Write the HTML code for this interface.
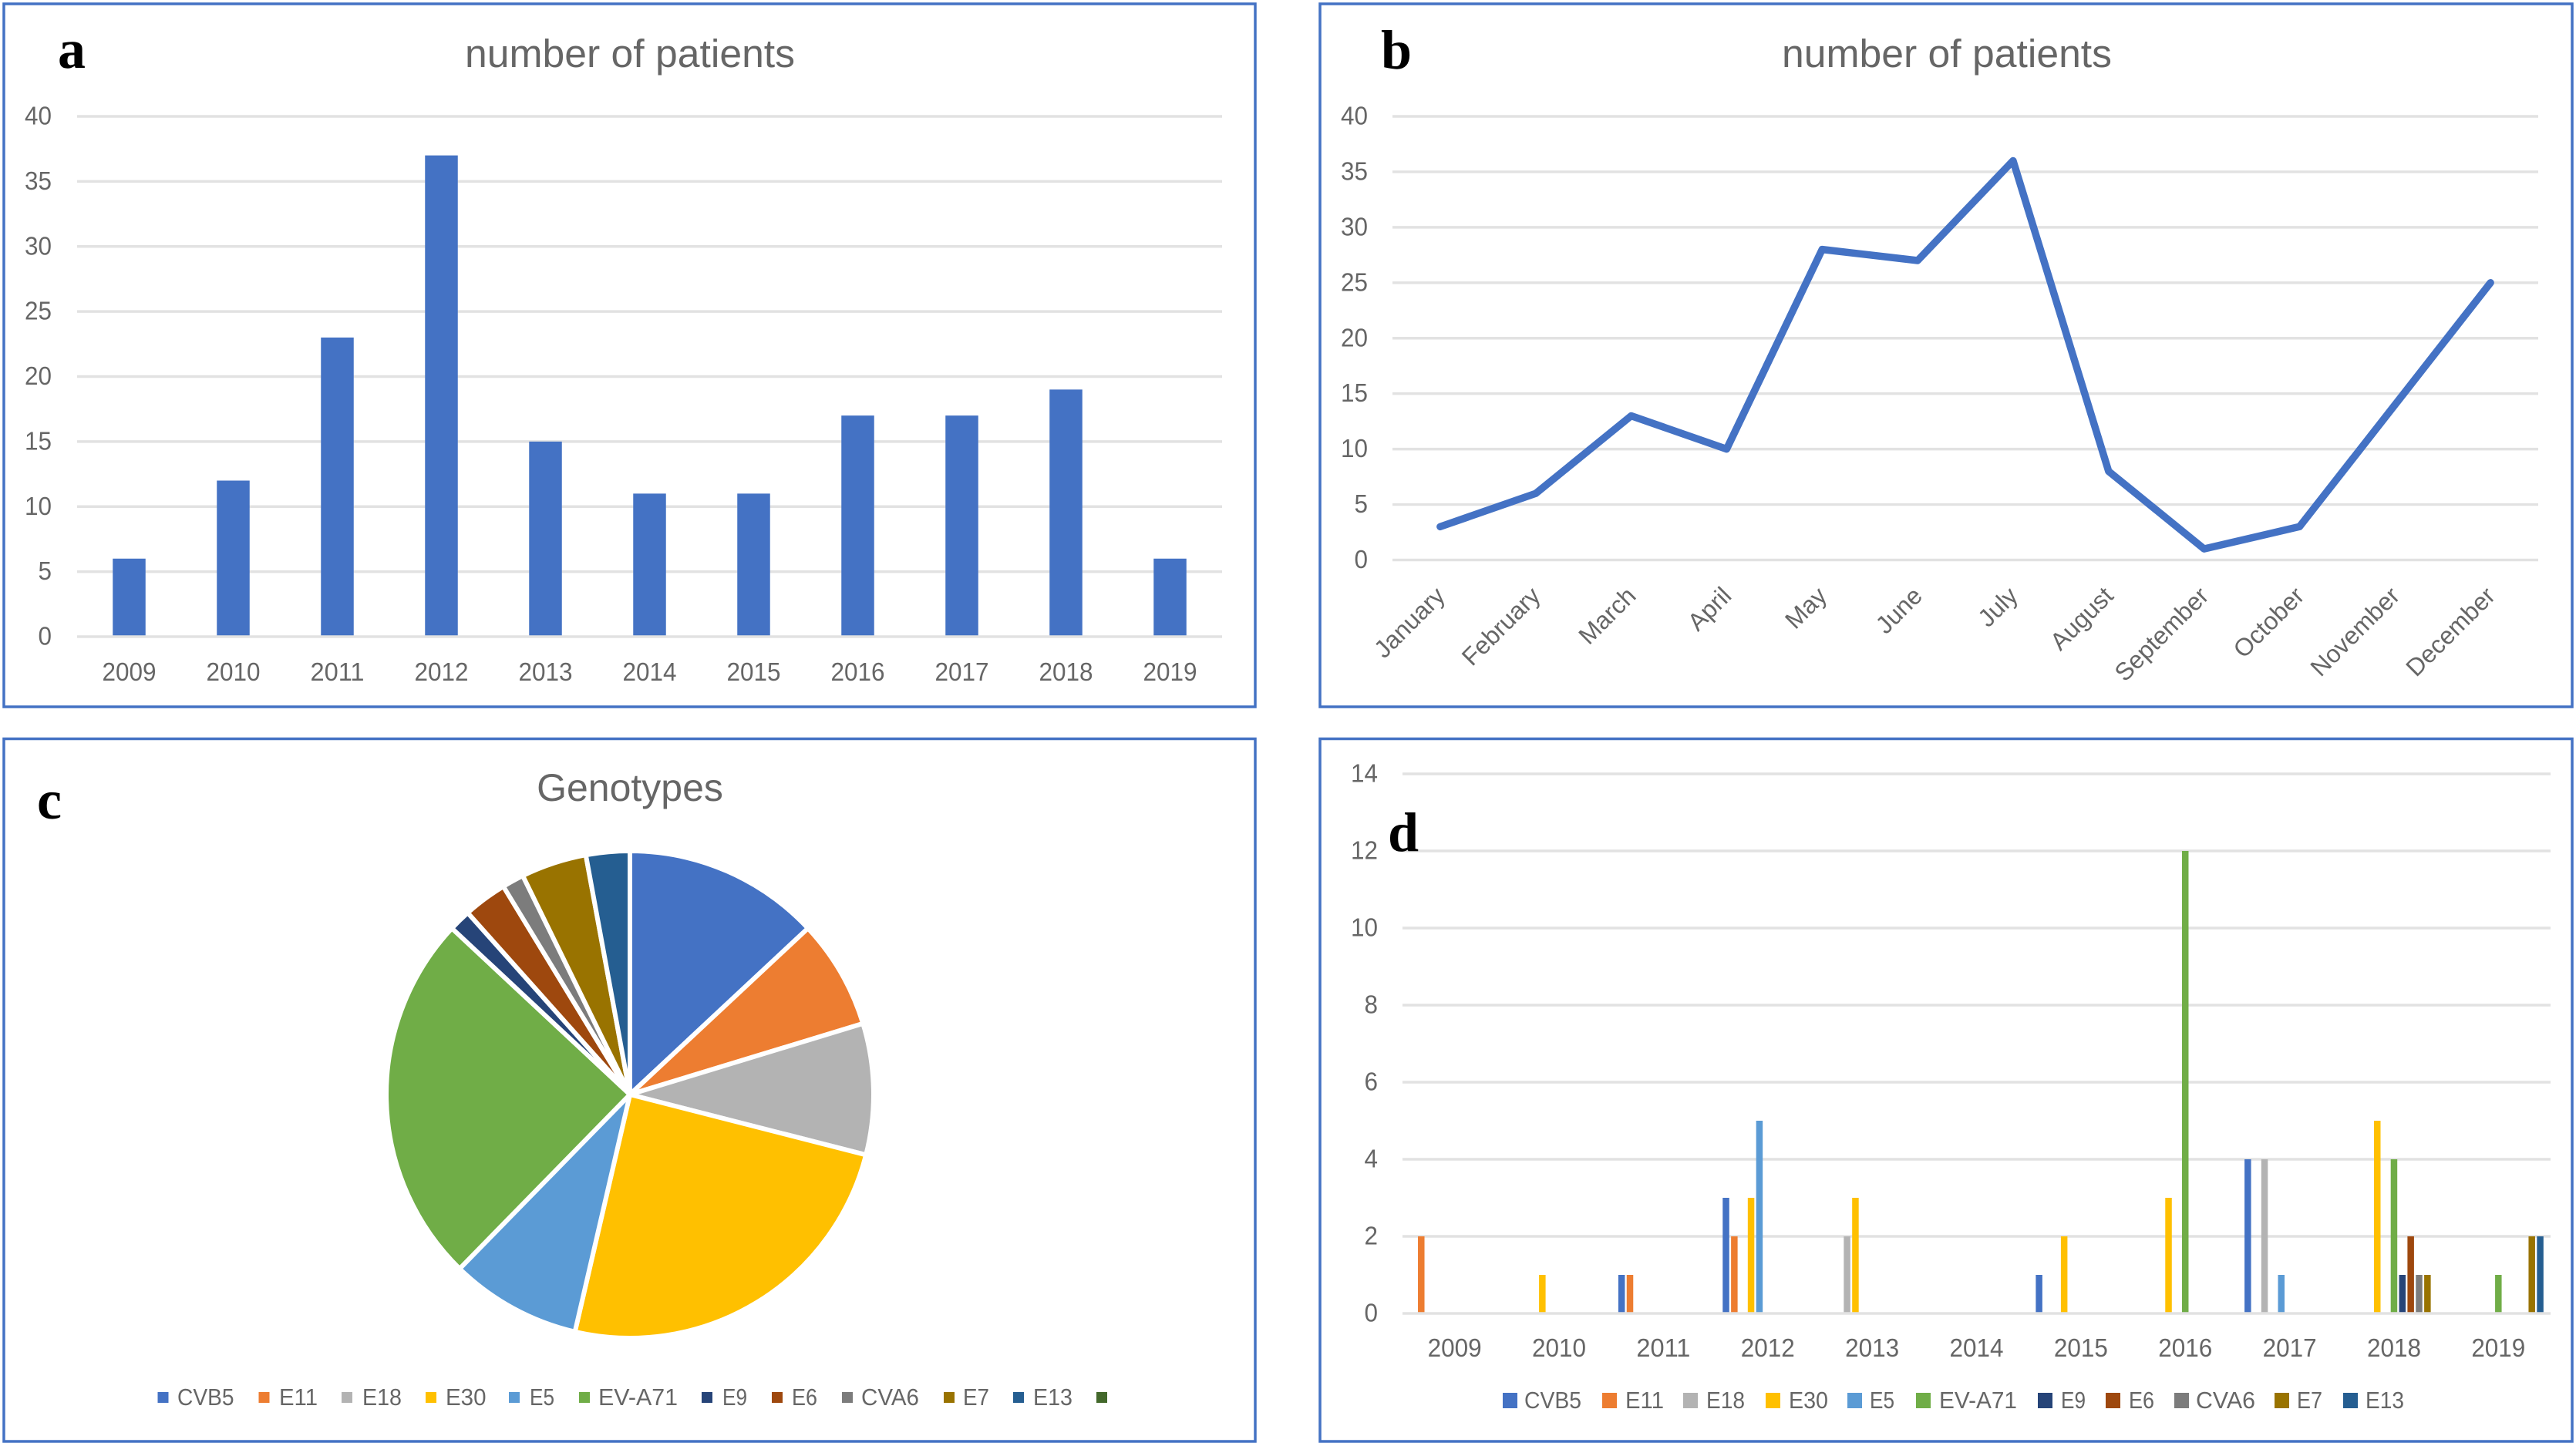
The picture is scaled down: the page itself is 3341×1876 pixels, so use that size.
<!DOCTYPE html>
<html lang="en">
<head>
<meta charset="utf-8">
<title>Patients and genotypes charts</title>
<style>
html,body{margin:0;padding:0;background:#fff;}
svg{display:block;}
text{font-family:"Liberation Sans",sans-serif;fill:#666;}
.tick{font-size:33px;}
.title{font-size:51px;}
.leg{font-size:31px;}
.panel-letter{font-family:"Liberation Serif",serif;font-weight:bold;font-size:72px;fill:#000;}
.frame{fill:#fff;stroke:#4472c4;stroke-width:3.5;}
</style>
</head>
<body>
<svg id="fig" xmlns="http://www.w3.org/2000/svg" width="3341" height="1876" viewBox="0 0 3341 1876">
  <rect width="3341" height="1876" fill="#fff"/>
  <rect class="frame" x="5" y="5" width="1623" height="912"/>
  <rect class="frame" x="1712" y="5" width="1624" height="912"/>
  <rect class="frame" x="5" y="958.5" width="1623" height="911.5"/>
  <rect class="frame" x="1712" y="958.5" width="1624" height="911.5"/>

  <g id="chartA"></g>
  <g id="chartB"></g>
  <g id="chartC"></g>
  <g id="chartD"></g>

  <text class="title" x="817" y="87" text-anchor="middle" textLength="428" lengthAdjust="spacingAndGlyphs">number of patients</text>
  <text class="title" x="2525" y="87" text-anchor="middle" textLength="428" lengthAdjust="spacingAndGlyphs">number of patients</text>
  <text class="title" x="817" y="1039" text-anchor="middle" style="font-size:50px">Genotypes</text>

  <g>
    <rect x="204.5" y="1806" width="14" height="14" fill="#4472c4"/>
    <text class="leg" x="230" y="1823" textLength="73.5" lengthAdjust="spacingAndGlyphs">CVB5</text>
    <rect x="335.5" y="1806" width="14" height="14" fill="#ed7d31"/>
    <text class="leg" x="362" y="1823" textLength="50" lengthAdjust="spacingAndGlyphs">E11</text>
    <rect x="443" y="1806" width="14" height="14" fill="#b3b3b3"/>
    <text class="leg" x="470" y="1823" textLength="51" lengthAdjust="spacingAndGlyphs">E18</text>
    <rect x="552" y="1806" width="14" height="14" fill="#ffc000"/>
    <text class="leg" x="578" y="1823" textLength="52.5" lengthAdjust="spacingAndGlyphs">E30</text>
    <rect x="660" y="1806" width="14" height="14" fill="#5b9bd5"/>
    <text class="leg" x="687" y="1823" textLength="32" lengthAdjust="spacingAndGlyphs">E5</text>
    <rect x="751" y="1806" width="14" height="14" fill="#70ad47"/>
    <text class="leg" x="776" y="1823" textLength="103" lengthAdjust="spacingAndGlyphs">EV-A71</text>
    <rect x="910" y="1806" width="14" height="14" fill="#264478"/>
    <text class="leg" x="937" y="1823" textLength="32" lengthAdjust="spacingAndGlyphs">E9</text>
    <rect x="1001" y="1806" width="14" height="14" fill="#9e480e"/>
    <text class="leg" x="1027" y="1823" textLength="33" lengthAdjust="spacingAndGlyphs">E6</text>
    <rect x="1092" y="1806" width="14" height="14" fill="#7c7c7c"/>
    <text class="leg" x="1117" y="1823" textLength="75" lengthAdjust="spacingAndGlyphs">CVA6</text>
    <rect x="1224" y="1806" width="14" height="14" fill="#997300"/>
    <text class="leg" x="1249" y="1823" textLength="34" lengthAdjust="spacingAndGlyphs">E7</text>
    <rect x="1314" y="1806" width="14" height="14" fill="#255e91"/>
    <text class="leg" x="1340" y="1823" textLength="51" lengthAdjust="spacingAndGlyphs">E13</text>
    <rect x="1422" y="1806" width="14" height="14" fill="#43682b"/>
  </g>

  <g>
    <rect x="1949" y="1807" width="19" height="20" fill="#4472c4"/>
    <text class="leg" x="1977" y="1827" textLength="74" lengthAdjust="spacingAndGlyphs">CVB5</text>
    <rect x="2078" y="1807" width="19" height="20" fill="#ed7d31"/>
    <text class="leg" x="2108" y="1827" textLength="50" lengthAdjust="spacingAndGlyphs">E11</text>
    <rect x="2183" y="1807" width="19" height="20" fill="#b3b3b3"/>
    <text class="leg" x="2213" y="1827" textLength="50" lengthAdjust="spacingAndGlyphs">E18</text>
    <rect x="2290" y="1807" width="19" height="20" fill="#ffc000"/>
    <text class="leg" x="2320" y="1827" textLength="51" lengthAdjust="spacingAndGlyphs">E30</text>
    <rect x="2396" y="1807" width="19" height="20" fill="#5b9bd5"/>
    <text class="leg" x="2425" y="1827" textLength="32" lengthAdjust="spacingAndGlyphs">E5</text>
    <rect x="2485" y="1807" width="19" height="20" fill="#70ad47"/>
    <text class="leg" x="2515" y="1827" textLength="101" lengthAdjust="spacingAndGlyphs">EV-A71</text>
    <rect x="2643" y="1807" width="19" height="20" fill="#264478"/>
    <text class="leg" x="2673" y="1827" textLength="32" lengthAdjust="spacingAndGlyphs">E9</text>
    <rect x="2731" y="1807" width="19" height="20" fill="#9e480e"/>
    <text class="leg" x="2761" y="1827" textLength="33" lengthAdjust="spacingAndGlyphs">E6</text>
    <rect x="2820" y="1807" width="19" height="20" fill="#7c7c7c"/>
    <text class="leg" x="2848" y="1827" textLength="77" lengthAdjust="spacingAndGlyphs">CVA6</text>
    <rect x="2950" y="1807" width="19" height="20" fill="#997300"/>
    <text class="leg" x="2979" y="1827" textLength="33" lengthAdjust="spacingAndGlyphs">E7</text>
    <rect x="3039" y="1807" width="19" height="20" fill="#255e91"/>
    <text class="leg" x="3068" y="1827" textLength="50" lengthAdjust="spacingAndGlyphs">E13</text>
  </g>

  <text class="panel-letter" x="75" y="88">a</text>
  <text class="panel-letter" x="1791" y="89">b</text>
  <text class="panel-letter" x="48" y="1062">c</text>
  <text class="panel-letter" x="1800" y="1104">d</text>
</svg>

<script>
// ---------- data ----------
const yearLabels = ['2009','2010','2011','2012','2013','2014','2015','2016','2017','2018','2019'];
const patientsByYear = [6,12,23,37,15,11,11,17,17,19,6];
const patientTicks = [0,5,10,15,20,25,30,35,40];

const monthLabels = ['January','February','March','April','May','June','July','August','September','October','November','December'];
const patientsByMonth = [3,6,13,10,28,27,36,8,1,3,14,25];

const genotypeNames = ['CVB5','E11','E18','E30','E5','EV-A71','E9','E6','CVA6','E7','E13'];
const genotypeTotals = [9,5,6,17,6,17,1,2,1,3,2];
const genotypeColors = ['#4472c4','#ed7d31','#b3b3b3','#ffc000','#5b9bd5','#70ad47','#264478','#9e480e','#7c7c7c','#997300','#255e91'];

const genotypeTicks = [0,2,4,6,8,10,12,14];
const seriesCVB5  = [0,0,1,3,0,0,1,0,4,0,0];
const seriesE11   = [2,0,1,2,0,0,0,0,0,0,0];
const seriesE18   = [0,0,0,0,2,0,0,0,4,0,0];
const seriesE30   = [0,1,0,3,3,0,2,3,0,5,0];
const seriesE5    = [0,0,0,5,0,0,0,0,1,0,0];
const seriesEVA71 = [0,0,0,0,0,0,0,12,0,4,1];
const seriesE9    = [0,0,0,0,0,0,0,0,0,1,0];
const seriesE6    = [0,0,0,0,0,0,0,0,0,2,0];
const seriesCVA6  = [0,0,0,0,0,0,0,0,0,1,0];
const seriesE7    = [0,0,0,0,0,0,0,0,0,1,2];
const seriesE13   = [0,0,0,0,0,0,0,0,0,0,2];
const genotypeSeries = [seriesCVB5,seriesE11,seriesE18,seriesE30,seriesE5,seriesEVA71,seriesE9,seriesE6,seriesCVA6,seriesE7,seriesE13];

// ---------- helpers ----------
const NS = 'http://www.w3.org/2000/svg';
const DIGIT_W = 17.5;
function make(parent, tag, attrs, text) {
  const el = document.createElementNS(NS, tag);
  for (const k in attrs) el.setAttribute(k, attrs[k]);
  if (text !== undefined) el.textContent = text;
  parent.appendChild(el);
  return el;
}
function slug(s) { return String(s).toLowerCase().replace(/[^a-z0-9]+/g, '-'); }
function linear(d0, d1, r0, r1) { return v => r0 + (v - d0) * (r1 - r0) / (d1 - d0); }
function bandCenter(left, right, n) { const b = (right - left) / n; return i => left + b * (i + 0.5); }
function numberText(g, x, y, anchor, value) {
  return make(g, 'text', {class:'tick', x:x, y:y, 'text-anchor':anchor,
    textLength:String(value).length * DIGIT_W, lengthAdjust:'spacingAndGlyphs'}, value);
}

function drawGrid(g, ticks, yScale, left, right, labelRight, prefix) {
  ticks.forEach(t => {
    if (t !== ticks[0]) {
      const ln = make(g, 'line', {x1:left, x2:right, y1:yScale(t), y2:yScale(t), stroke:'#e2e2e2', 'stroke-width':3.4});
      
      
    }
    const tx = numberText(g, labelRight, yScale(t) + 10.5, 'end', t);
    
    
  });
}
function drawBaseline(g, ticks, yScale, left, right, prefix) {
  const ln = make(g, 'line', {x1:left, x2:right, y1:yScale(ticks[0]), y2:yScale(ticks[0]), stroke:'#e2e2e2', 'stroke-width':3.4});
  
  
}

// ---------- chart a ----------
(function () {
  const g = document.getElementById('chartA');
  const left = 100, right = 1585;
  const y = linear(0, 40, 826, 151);
  const x = bandCenter(left, right, yearLabels.length);
  const barW = 42.5;
  drawGrid(g, patientTicks, y, left, right, 67, 'year-chart');
  patientsByYear.forEach((v, i) => {
    const r = make(g, 'rect', {x:x(i) - barW / 2, y:y(v), width:barW, height:y(0) - y(v), fill:'#4472c4'});
    
    
  });
  drawBaseline(g, patientTicks, y, left, right, 'year-chart');
  yearLabels.forEach((l, i) => {
    const t = numberText(g, x(i), 883, 'middle', l);
    
    
  });
})();

// ---------- chart b ----------
(function () {
  const g = document.getElementById('chartB');
  const left = 1806, right = 3292;
  const y = linear(0, 40, 726.5, 151);
  const x = bandCenter(left, right, monthLabels.length);
  drawGrid(g, patientTicks, y, left, right, 1774, 'month-chart');
  drawBaseline(g, patientTicks, y, left, right, 'month-chart');
  const pts = patientsByMonth.map((v, i) => x(i).toFixed(1) + ',' + y(v).toFixed(1)).join(' ');
  const line = make(g, 'polyline', {points:pts, fill:'none', stroke:'#4472c4', 'stroke-width':9.5, 'stroke-linejoin':'round', 'stroke-linecap':'round'});
  
  
  monthLabels.forEach((l, i) => {
    const ax = x(i) + 8, ay = 775;
    const t = make(g, 'text', {class:'tick', style:'font-size:32px', x:ax, y:ay, 'text-anchor':'end', transform:'rotate(-45 ' + ax + ' ' + ay + ')'}, l);
    
    
  });
})();

// ---------- chart c ----------
(function () {
  const g = document.getElementById('chartC');
  const cx = 817, cy = 1420, r = 316;
  const total = genotypeTotals.reduce((a, b) => a + b, 0);
  let acc = 0;
  genotypeTotals.forEach((v, i) => {
    const a0 = acc / total * 2 * Math.PI;
    acc += v;
    const a1 = acc / total * 2 * Math.PI;
    const p0 = [cx + r * Math.sin(a0), cy - r * Math.cos(a0)];
    const p1 = [cx + r * Math.sin(a1), cy - r * Math.cos(a1)];
    const large = (a1 - a0) > Math.PI ? 1 : 0;
    const d = 'M' + cx + ' ' + cy + 'L' + p0[0].toFixed(2) + ' ' + p0[1].toFixed(2) +
              'A' + r + ' ' + r + ' 0 ' + large + ' 1 ' + p1[0].toFixed(2) + ' ' + p1[1].toFixed(2) + 'Z';
    const s = make(g, 'path', {d:d, fill:genotypeColors[i], stroke:'#fff', 'stroke-width':6, 'stroke-linejoin':'round'});
    
    
  });
})();

// ---------- chart d ----------
(function () {
  const g = document.getElementById('chartD');
  const left = 1819, right = 3308;
  const y = linear(0, 14, 1704, 1004);
  const x = bandCenter(left, right, yearLabels.length);
  const pitch = 10.85, barW = 8.5;
  drawGrid(g, genotypeTicks, y, left, right, 1787, 'genotype-chart');
  genotypeSeries.forEach((vals, s) => {
    vals.forEach((v, i) => {
      if (!v) return;
      const bx = x(i) + (s - (genotypeSeries.length - 1) / 2) * pitch - barW / 2;
      const r = make(g, 'rect', {x:bx, y:y(v), width:barW, height:y(0) - y(v), fill:genotypeColors[s]});
      
      
    });
  });
  drawBaseline(g, genotypeTicks, y, left, right, 'genotype-chart');
  yearLabels.forEach((l, i) => {
    const t = numberText(g, x(i), 1760, 'middle', l);
    
    
  });
})();
</script>
</body>
</html>
